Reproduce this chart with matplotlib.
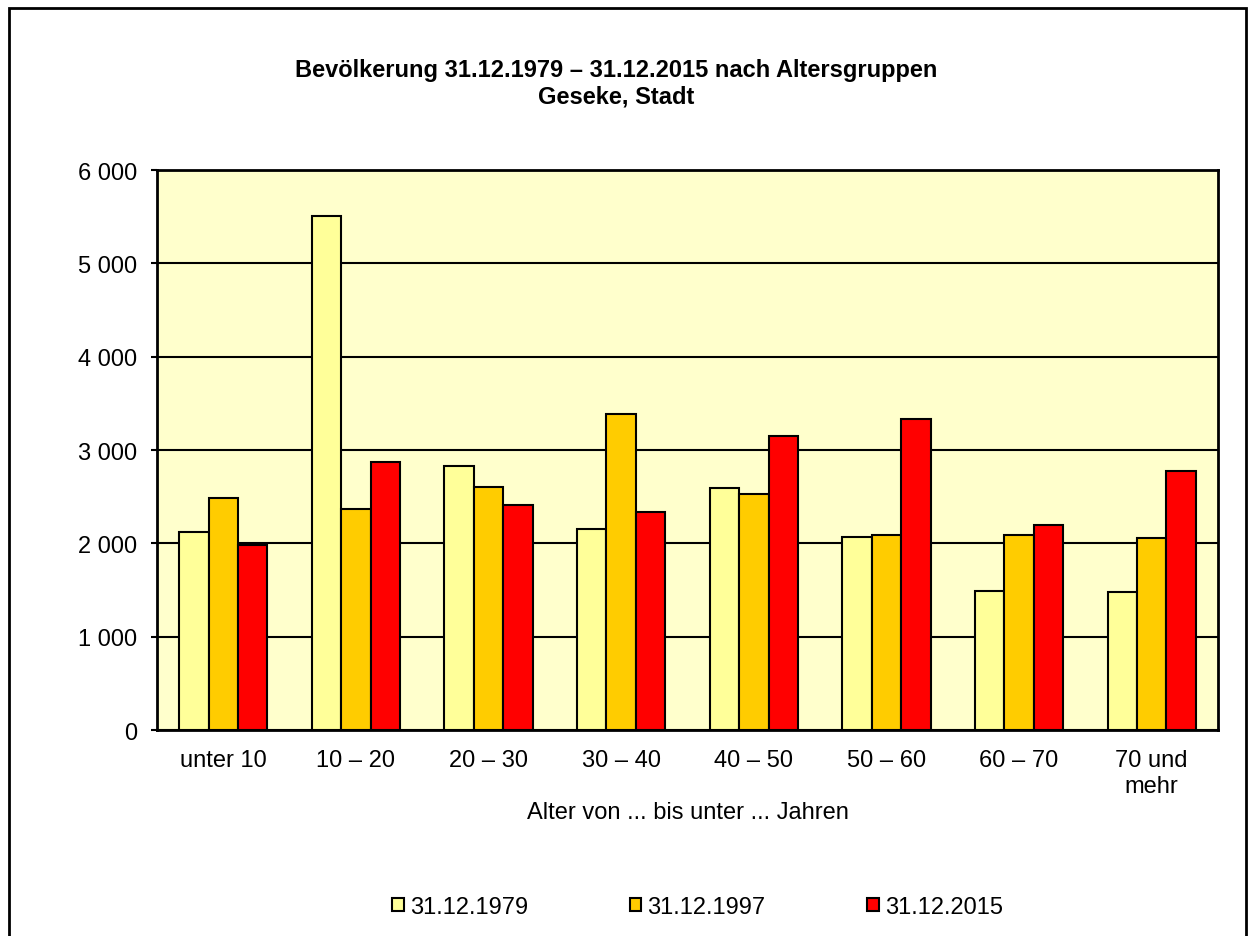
import numpy as np
import matplotlib
matplotlib.use('Agg')
import matplotlib.pyplot as plt
from matplotlib.patches import Rectangle

plt.rcParams['font.family'] = ['Liberation Sans', 'DejaVu Sans']

# Daten
gruppen = ['unter 10', '10 – 20', '20 – 30', '30 – 40', '40 – 50', '50 – 60', '60 – 70', '70 und\nmehr']
stichtage = ['31.12.1979', '31.12.1997', '31.12.2015']
werte_1979 = [2125, 5510, 2829, 2157, 2589, 2070, 1486, 1482]
werte_1997 = [2489, 2368, 2604, 3383, 2525, 2092, 2086, 2054]
werte_2015 = [1982, 2875, 2415, 2335, 3150, 3332, 2193, 2778]
farben = ['#FFFF99', '#FFCC00', '#FF0000']
y_ticks = [0, 1000, 2000, 3000, 4000, 5000, 6000]
y_labels = ['0', '1 000', '2 000', '3 000', '4 000', '5 000', '6 000']

fig = plt.figure(figsize=(12.5, 9.37), dpi=100)
ax = fig.add_axes([157/1250, 1 - 731/937, (1218-157)/1250, (731-171)/937])
ax.set_facecolor('#FFFFCC')

x = np.arange(len(gruppen))
breite = 0.222
for i, (serie, farbe, name) in enumerate(zip([werte_1979, werte_1997, werte_2015], farben, stichtage)):
    ax.bar(x + (i - 1) * breite, serie, width=breite, color=farbe,
           edgecolor='black', linewidth=1.5, label=name, zorder=3)

ax.set_xlim(-0.5, len(gruppen) - 0.5)
ax.set_ylim(0, 6000)
ax.set_yticks(y_ticks)
ax.set_yticklabels(y_labels)
ax.yaxis.grid(True, color='black', linewidth=1.5, zorder=0)
ax.set_axisbelow(True)
ax.set_xticks(x)
ax.set_xticklabels(gruppen, linespacing=1.2)
ax.tick_params(axis='x', length=0, pad=14, labelsize=17)
ax.tick_params(axis='y', length=4, width=1.5, pad=10, labelsize=17, direction='out')
for s in ax.spines.values():
    s.set_linewidth(2)

ax.set_xlabel('Alter von ... bis unter ... Jahren', fontsize=17, labelpad=3)

fig.text(0.493, 1 - 70/937, 'Bevölkerung 31.12.1979 – 31.12.2015 nach Altersgruppen',
         ha='center', va='center', fontsize=17, fontweight='bold')
fig.text(0.493, 1 - 97/937, 'Geseke, Stadt',
         ha='center', va='center', fontsize=17, fontweight='bold')

leg = fig.legend(loc='center', bbox_to_anchor=(0.558, 1 - 908/937), ncol=3,
                 frameon=False, fontsize=17, handlelength=0.5, handleheight=0.5,
                 handletextpad=0.25, columnspacing=4.3)
for h in leg.legend_handles:
    h.set_linewidth(1.5)

# Rahmen um die ganze Grafik
fig.patches.append(Rectangle((9/1250, -0.05), (1246-9)/1250, 1.05 - 9/937,
                             transform=fig.transFigure, fill=False,
                             edgecolor='black', linewidth=2))

fig.savefig('out.png', dpi=100)
